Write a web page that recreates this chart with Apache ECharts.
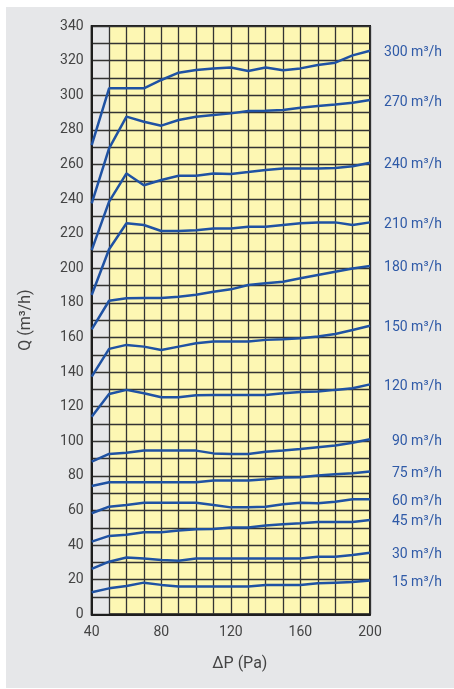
<!DOCTYPE html>
<html>
<head>
<meta charset="utf-8">
<script src="https://cdn.jsdelivr.net/npm/echarts@6/dist/echarts.min.js"></script>
<style>
  html, body { margin: 0; padding: 0; background: #ffffff; }
  #chart { width: 454px; height: 689px; }
</style>
</head>
<body>
<div id="chart"></div>
<script>
// Pressure difference (Pa)
const pressures = [40, 50, 60, 70, 80, 90, 100, 110, 120, 130, 140, 150, 160, 170, 180, 190, 200];

// Flow curves Q (m³/h) by nominal setting
const q15  = [12.7, 15.0, 16.4, 18.3, 17.0, 16.0, 16.0, 16.0, 16.0, 16.0, 17.0, 17.0, 17.0, 17.9, 18.3, 18.7, 19.5];
const q30  = [26.2, 30.4, 32.8, 32.2, 31.4, 31.0, 32.2, 32.2, 32.2, 32.2, 32.2, 32.2, 32.2, 33.3, 33.3, 34.3, 35.6];
const q45  = [42.0, 45.3, 46.0, 47.4, 47.4, 48.4, 49.1, 49.3, 50.1, 50.1, 51.3, 52.0, 52.6, 53.4, 53.4, 53.4, 54.5];
const q60  = [58.4, 62.2, 63.2, 64.5, 64.5, 64.5, 64.5, 63.2, 61.8, 61.8, 62.2, 63.6, 64.5, 64.2, 65.1, 66.5, 66.5];
const q75  = [74.2, 76.3, 76.3, 76.3, 76.3, 76.3, 76.3, 77.3, 77.3, 77.3, 78.0, 79.0, 79.2, 80.2, 81.0, 81.5, 82.5];
const q90  = [88.2, 92.7, 93.4, 94.6, 94.6, 94.6, 94.6, 93.0, 92.7, 92.7, 94.0, 94.6, 95.5, 96.5, 97.5, 99.2, 101.2];
const q120 = [114.2, 127.3, 129.7, 127.7, 125.4, 125.4, 126.6, 126.8, 126.8, 126.8, 126.8, 127.7, 128.5, 128.7, 129.7, 130.6, 132.9];
const q150 = [137.4, 153.4, 155.7, 154.7, 152.8, 154.7, 156.6, 157.6, 157.6, 157.6, 158.6, 159.0, 159.5, 160.5, 162.0, 164.3, 166.8];
const q180 = [164.7, 181.2, 182.6, 182.8, 182.8, 183.5, 184.7, 186.4, 187.8, 190.3, 191.3, 192.2, 194.2, 196.1, 198.0, 199.9, 201.3];
const q210 = [184.5, 211.0, 226.0, 225.0, 221.5, 221.5, 222.0, 223.0, 223.0, 224.0, 224.0, 225.0, 226.0, 226.5, 226.5, 225.0, 226.5];
const q240 = [210.5, 238.5, 254.8, 248.0, 251.0, 253.5, 253.5, 254.8, 254.5, 255.6, 256.8, 257.7, 257.7, 257.7, 258.0, 259.0, 261.0];
const q270 = [237.5, 269.3, 287.6, 284.7, 282.4, 285.7, 287.6, 288.6, 289.5, 290.9, 291.0, 291.4, 292.8, 293.8, 294.7, 295.7, 297.2];
const q300 = [271.2, 304.0, 304.0, 304.0, 308.8, 313.0, 314.6, 315.5, 316.0, 314.0, 316.0, 314.4, 315.5, 317.5, 318.8, 323.0, 325.7];

const seriesNames = ['15', '30', '45', '60', '75', '90', '120', '150', '180', '210', '240', '270', '300'];
const seriesValues = [q15, q30, q45, q60, q75, q90, q120, q150, q180, q210, q240, q270, q300];

// Axis settings
const xMin = 40, xMax = 200, xStep = 10;
const yMin = 0, yMax = 340, yStep = 10;
// Shaded (non-operating) pressure band
const shadedBand = [40, 50];

const lineColor = '#1f52a3';
const labelColor = '#2f5aa7';

const chart = echarts.init(document.getElementById('chart'), null, { renderer: 'canvas' });

const series = seriesNames.map((name, i) => ({
  name: name + ' m³/h',
  type: 'line',
  data: pressures.map((p, j) => [p, seriesValues[i][j]]),
  showSymbol: false,
  symbol: 'none',
  smooth: false,
  lineStyle: { color: lineColor, width: 2.5 },
  itemStyle: { color: lineColor },
  z: 5,
  endLabel: {
    show: true,
    distance: 8,
    offset: [0, 2],
    formatter: () => '{a|' + name + ' m³/h}',
    rich: {
      a: { width: 64, align: 'right', color: labelColor, fontSize: 14, fontFamily: 'Roboto' }
    }
  },
  animation: false
}));

// Gray band series (markArea on an empty helper series)
series.push({
  type: 'line',
  data: [],
  silent: true,
  markArea: {
    silent: true,
    itemStyle: { color: '#e6e7e9' },
    data: [[{ xAxis: shadedBand[0], yAxis: yMin }, { xAxis: shadedBand[1], yAxis: yMax }]]
  },
  z: 1
});

chart.setOption({
  animation: false,
  backgroundColor: '#ffffff',
  graphic: [{
    type: 'rect',
    shape: { x: 6, y: 7, width: 448, height: 681 },
    style: { fill: '#e6e7e9' },
    z: -10,
    silent: true
  }],
  grid: {
    left: 91.7,
    right: 84,
    top: 26,
    bottom: 74.7,
    show: true,
    backgroundColor: '#fdf7b3',
    borderColor: '#1e1e1e',
    borderWidth: 2
  },
  xAxis: {
    type: 'value',
    min: xMin,
    max: xMax,
    interval: xStep,
    name: 'ΔP (Pa)',
    nameLocation: 'middle',
    nameGap: 42,
    nameTextStyle: { fontSize: 16, color: '#444', fontFamily: 'Roboto', padding: [0, 0, 0, 18] },
    axisLine: { show: true, onZero: false, lineStyle: { color: '#1e1e1e', width: 2 } },
    axisTick: { show: false },
    axisLabel: { interval: 3, color: '#444', fontSize: 14, fontFamily: 'Roboto', margin: 11,
      formatter: v => ((v - xMin) % 40 === 0 ? String(v) : '') },
    splitLine: { show: true, lineStyle: { color: '#333', width: 1.3 } },
    z: 3
  },
  yAxis: {
    type: 'value',
    min: yMin,
    max: yMax,
    interval: yStep,
    name: 'Q (m³/h)',
    nameLocation: 'middle',
    nameGap: 58,
    nameRotate: 90,
    nameTextStyle: { fontSize: 16, color: '#444', fontFamily: 'Roboto' },
    axisLine: { show: true, lineStyle: { color: '#1e1e1e', width: 2 } },
    axisTick: { show: false },
    axisLabel: { color: '#444', fontSize: 14, fontFamily: 'Roboto', margin: 8,
      formatter: v => (v % 20 === 0 ? String(v) : '') },
    splitLine: { show: true, lineStyle: { color: '#333', width: 1.3 } },
    z: 3
  },
  series: series
});
</script>
</body>
</html>
